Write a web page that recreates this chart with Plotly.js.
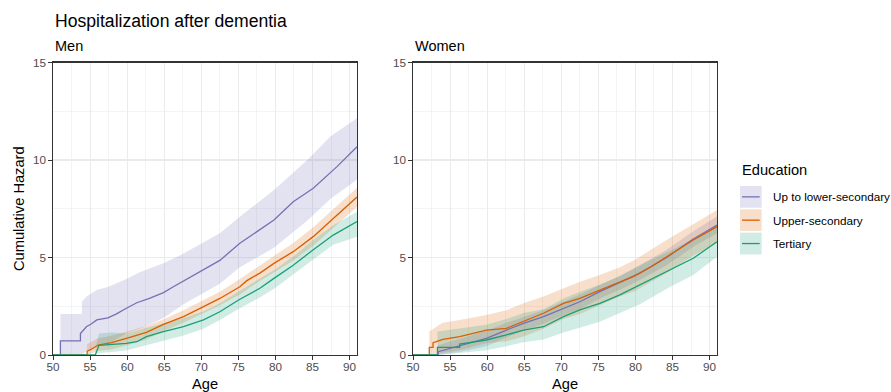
<!DOCTYPE html>
<html>
<head>
<meta charset="utf-8">
<script src="https://cdn.plot.ly/plotly-3.0.1.min.js"></script>
<style>html,body{margin:0;padding:0;background:#fff;} #chart{width:891px;height:392px;}</style>
</head>
<body>
<div id="chart"></div>
<script>
// ---------- DATA ----------
const groups = ["Up to lower-secondary", "Upper-secondary", "Tertiary"];
const lineColors = ["#7570B3", "#D95F02", "#1B9E77"];
const fillColors = ["rgba(117,112,179,0.2)", "rgba(217,95,2,0.2)", "rgba(27,158,119,0.2)"];

// Men — Up to lower-secondary
const menLowAge = [50, 51, 51, 53.7, 53.7, 54.0, 54.5, 55.2, 55.9, 57.4, 58.5, 59.9, 61.3, 63, 64.9, 66, 67.6, 70.3, 72.5, 75.2, 77.5, 79.8, 82.4, 85.1, 88.3, 91];
const menLowVal = [0, 0, 0.72, 0.72, 1.1, 1.23, 1.45, 1.6, 1.8, 1.9, 2.1, 2.4, 2.68, 2.9, 3.2, 3.45, 3.8, 4.36, 4.85, 5.73, 6.32, 6.92, 7.86, 8.55, 9.66, 10.68];
const menLowCiAge = [51, 53.9, 53.9, 54.5, 55.9, 57.5, 59.9, 61.7, 64.9, 67.6, 72.5, 75.2, 79.8, 84.3, 87.4, 91];
const menLowUpper = [2.1, 2.1, 2.73, 3.0, 3.33, 3.5, 3.9, 4.25, 4.7, 5.2, 6.24, 7.09, 8.46, 10.0, 11.2, 12.14];
const menLowLower = [0, 0, 0, 0.2, 0.5, 0.6, 1.1, 1.35, 1.9, 2.6, 3.65, 4.5, 5.5, 6.9, 8.0, 9.0];

// Men — Upper-secondary
const menUppAge = [50, 54.6, 54.6, 55.2, 56.1, 57.9, 59.9, 62.6, 64.9, 67.6, 70.3, 72.5, 75.2, 76.1, 77.9, 79.8, 82.4, 85.1, 87.8, 91];
const menUppVal = [0, 0, 0.2, 0.3, 0.51, 0.63, 0.85, 1.16, 1.57, 1.97, 2.48, 2.9, 3.5, 3.8, 4.2, 4.7, 5.3, 6.07, 7.0, 8.1];
const menUppCiAge = [54.6, 56, 58, 60, 62.6, 65, 67.6, 70.3, 72.5, 75.2, 77.9, 80, 82.4, 85.1, 87.8, 91];
const menUppUpper = [0.55, 0.85, 1.0, 1.2, 1.5, 1.85, 2.3, 2.8, 3.25, 3.9, 4.6, 5.1, 5.75, 6.55, 7.5, 8.58];
const menUppLower = [0, 0.2, 0.3, 0.5, 0.8, 1.25, 1.65, 2.15, 2.55, 3.1, 3.8, 4.27, 4.85, 5.6, 6.5, 7.6];

// Men — Tertiary
const menTerAge = [50, 55.7, 56.2, 58, 59.9, 61.3, 62.6, 64.9, 67.6, 70.3, 72.5, 75.2, 77.9, 79.8, 82.4, 85.1, 87.8, 91];
const menTerVal = [0, 0, 0.5, 0.55, 0.6, 0.68, 0.94, 1.2, 1.45, 1.8, 2.22, 2.86, 3.42, 3.93, 4.6, 5.4, 6.15, 6.84];
const menTerCiAge = [55.7, 56.2, 58, 60, 62.6, 65, 67.6, 70.3, 72.5, 75.2, 77.9, 80, 82.4, 85.1, 87.8, 91];
const menTerUpper = [0.3, 1.1, 1.15, 1.1, 1.4, 1.65, 1.9, 2.25, 2.65, 3.3, 3.9, 4.4, 5.05, 5.9, 6.65, 7.35];
const menTerLower = [0, 0.1, 0.15, 0.25, 0.5, 0.75, 1.0, 1.35, 1.8, 2.4, 2.95, 3.45, 4.15, 4.9, 5.65, 6.07];

// Women — Up to lower-secondary
const womLowAge = [50, 53.4, 53.4, 56.3, 59.9, 62.6, 64.9, 67.6, 70.3, 72.5, 75.2, 77.9, 80.6, 84.2, 87.8, 91];
const womLowVal = [0, 0, 0.17, 0.46, 0.85, 1.28, 1.62, 1.97, 2.4, 2.73, 3.25, 3.71, 4.2, 5.0, 5.95, 6.67];
const womLowCiAge = [53.4, 56.3, 59.9, 62.6, 64.9, 67.6, 70.3, 72.5, 75.2, 77.9, 80.6, 84.2, 87.8, 91];
const womLowUpper = [0.5, 0.85, 1.25, 1.65, 1.95, 2.3, 2.75, 3.1, 3.6, 4.05, 4.6, 5.4, 6.35, 7.1];
const womLowLower = [0, 0.15, 0.45, 0.9, 1.25, 1.6, 2.05, 2.35, 2.9, 3.35, 3.85, 4.6, 5.55, 6.25];

// Women — Upper-secondary
const womUppAge = [50, 52.2, 52.2, 52.7, 52.7, 54.05, 56.3, 59.9, 62.6, 64.9, 67.6, 70.3, 72.5, 75.2, 77.9, 79.7, 82, 84.2, 87.8, 91];
const womUppVal = [0, 0, 0.39, 0.39, 0.63, 0.8, 0.94, 1.28, 1.37, 1.71, 2.14, 2.65, 2.9, 3.33, 3.76, 4.02, 4.5, 5.04, 5.9, 6.58];
const womUppCiAge = [52.2, 54, 56.3, 59.9, 62.6, 64.9, 67.6, 70.3, 72.5, 75.2, 77.9, 80, 84.2, 87.8, 91];
const womUppUpper = [1.2, 1.66, 1.8, 2.05, 2.3, 2.65, 3.0, 3.4, 3.76, 4.1, 4.5, 4.9, 5.9, 6.7, 7.44];
const womUppLower = [0, 0.1, 0.25, 0.6, 0.7, 0.95, 1.35, 1.85, 2.1, 2.55, 3.0, 3.3, 4.2, 5.1, 5.75];

// Women — Tertiary
const womTerAge = [50, 53.3, 53.3, 56.3, 56.3, 59.9, 62.6, 64.9, 67.6, 70.3, 72.5, 75.2, 77.9, 80.6, 83.7, 87.8, 91];
const womTerVal = [0, 0, 0.39, 0.39, 0.56, 0.77, 1.03, 1.28, 1.45, 1.97, 2.31, 2.65, 3.08, 3.59, 4.15, 4.96, 5.81];
const womTerCiAge = [53.3, 56.3, 59.9, 62.6, 64.9, 67.6, 70.3, 72.5, 75.2, 77.9, 80.6, 84.7, 87.8, 91];
const womTerUpper = [1.2, 1.35, 1.55, 1.85, 2.15, 2.35, 2.9, 3.25, 3.6, 4.05, 4.6, 5.35, 5.95, 6.65];
const womTerLower = [0, 0.1, 0.25, 0.45, 0.65, 0.8, 1.15, 1.4, 1.71, 2.15, 2.6, 3.5, 4.1, 5.04];

const xTicks = [50, 55, 60, 65, 70, 75, 80, 85, 90];
const yTicks = [0, 5, 10, 15];
const panelTitles = ["Men", "Women"];

// ---------- BUILD ----------
const W = 891, H = 392;
const px = v => v / W;
const py = v => 1 - v / H;

const panels = [
  {xa: "x", ya: "y", series: [
    [menLowAge, menLowVal, menLowCiAge, menLowUpper, menLowLower],
    [menUppAge, menUppVal, menUppCiAge, menUppUpper, menUppLower],
    [menTerAge, menTerVal, menTerCiAge, menTerUpper, menTerLower]]},
  {xa: "x2", ya: "y2", series: [
    [womLowAge, womLowVal, womLowCiAge, womLowUpper, womLowLower],
    [womUppAge, womUppVal, womUppCiAge, womUppUpper, womUppLower],
    [womTerAge, womTerVal, womTerCiAge, womTerUpper, womTerLower]]}
];

const traces = [];
panels.forEach(p => {
  p.series.forEach((s, i) => {
    const [, , ca, up, lo] = s;
    traces.push({
      type: "scatter", mode: "lines", xaxis: p.xa, yaxis: p.ya,
      x: ca.concat(ca.slice().reverse()),
      y: up.concat(lo.slice().reverse()),
      fill: "toself", fillcolor: fillColors[i],
      line: {width: 0, color: fillColors[i]}, hoverinfo: "skip", showlegend: false
    });
  });
  p.series.forEach((s, i) => {
    traces.push({
      type: "scatter", mode: "lines", xaxis: p.xa, yaxis: p.ya,
      x: s[0], y: s[1], name: groups[i],
      line: {width: 1.3, color: lineColors[i]}, showlegend: false
    });
  });
});

const FONT = "Liberation Sans, Arial, Helvetica, sans-serif";
function xAxis(d) {
  return {
    domain: d, range: [50, 91], tickvals: xTicks, ticks: "outside", ticklen: 3.5, tickwidth: 1,
    tickcolor: "#333333", showline: true, linecolor: "#333333", linewidth: 1.1, mirror: true,
    showgrid: true, gridcolor: "#ebebeb", gridwidth: 1.1, zeroline: false,
    minor: {dtick: 2.5, tick0: 0, showgrid: true, gridcolor: "#ebebeb", gridwidth: 0.55, ticks: ""},
    tickfont: {family: FONT, size: 11.7, color: "#4d4d4d"}, ticklabelstandoff: -3, fixedrange: true
  };
}
function yAxis(d, anchor) {
  return {
    domain: d, range: [0, 15], tickvals: yTicks, ticks: "outside", ticklen: 3.5, tickwidth: 1,
    tickcolor: "#333333", showline: true, linecolor: "#333333", linewidth: 1.1, mirror: true,
    showgrid: true, gridcolor: "#ebebeb", gridwidth: 1.1, zeroline: false, anchor: anchor,
    minor: {dtick: 2.5, tick0: 0, showgrid: true, gridcolor: "#ebebeb", gridwidth: 0.55, ticks: ""},
    tickfont: {family: FONT, size: 11.7, color: "#4d4d4d"}, fixedrange: true
  };
}

const yDom = [py(355), py(62.5)];
const annotations = [
  {text: "Hospitalization after dementia", x: px(52.5), y: py(21), xanchor: "left", yanchor: "middle",
   font: {family: FONT, size: 17.6, color: "#000"}},
  {text: panelTitles[0], x: px(52.5), y: py(46), xanchor: "left", yanchor: "middle",
   font: {family: FONT, size: 14.5, color: "#000"}},
  {text: panelTitles[1], x: px(412.5), y: py(46), xanchor: "left", yanchor: "middle",
   font: {family: FONT, size: 14.5, color: "#000"}},
  {text: "Age", x: px(205), y: py(384), xanchor: "center", yanchor: "middle",
   font: {family: FONT, size: 14.67, color: "#000"}},
  {text: "Age", x: px(565), y: py(384), xanchor: "center", yanchor: "middle",
   font: {family: FONT, size: 14.67, color: "#000"}},
  {text: "Cumulative Hazard", x: px(19), y: py(209), xanchor: "center", yanchor: "middle", textangle: -90,
   font: {family: FONT, size: 14.67, color: "#000"}},
  {text: "Education", x: px(739.5), y: py(170), xanchor: "left", yanchor: "middle",
   font: {family: FONT, size: 14.67, color: "#000"}}
];
annotations.forEach(a => { a.xref = "paper"; a.yref = "paper"; a.showarrow = false; });

const shapes = [];
const keyTop = [186, 209.3, 232.7];
groups.forEach((g, i) => {
  const t = keyTop[i], b = t + 21.7, m = (t + b) / 2;
  shapes.push({type: "rect", xref: "paper", yref: "paper", x0: px(740), x1: px(761.7), y0: py(b), y1: py(t),
    fillcolor: fillColors[i], line: {width: 0}});
  shapes.push({type: "line", xref: "paper", yref: "paper", x0: px(742), x1: px(759.7), y0: py(m), y1: py(m),
    line: {color: lineColors[i], width: 1.3}});
  annotations.push({text: g, xref: "paper", yref: "paper", x: px(770.5), y: py(m), xanchor: "left", yanchor: "middle",
    showarrow: false, font: {family: FONT, size: 11.7, color: "#000"}});
});

const layout = {
  width: W, height: H, margin: {l: 0, r: 0, t: 0, b: 0},
  paper_bgcolor: "#fff", plot_bgcolor: "#fff", showlegend: false,
  xaxis: xAxis([px(53), px(357)]), yaxis: yAxis(yDom, "x"),
  xaxis2: xAxis([px(413), px(717)]), yaxis2: yAxis(yDom, "x2"),
  annotations: annotations, shapes: shapes, font: {family: FONT}
};
layout.xaxis.anchor = "y";
layout.xaxis2.anchor = "y2";

Plotly.newPlot("chart", traces, layout, {staticPlot: true, displayModeBar: false});
</script>
</body>
</html>
